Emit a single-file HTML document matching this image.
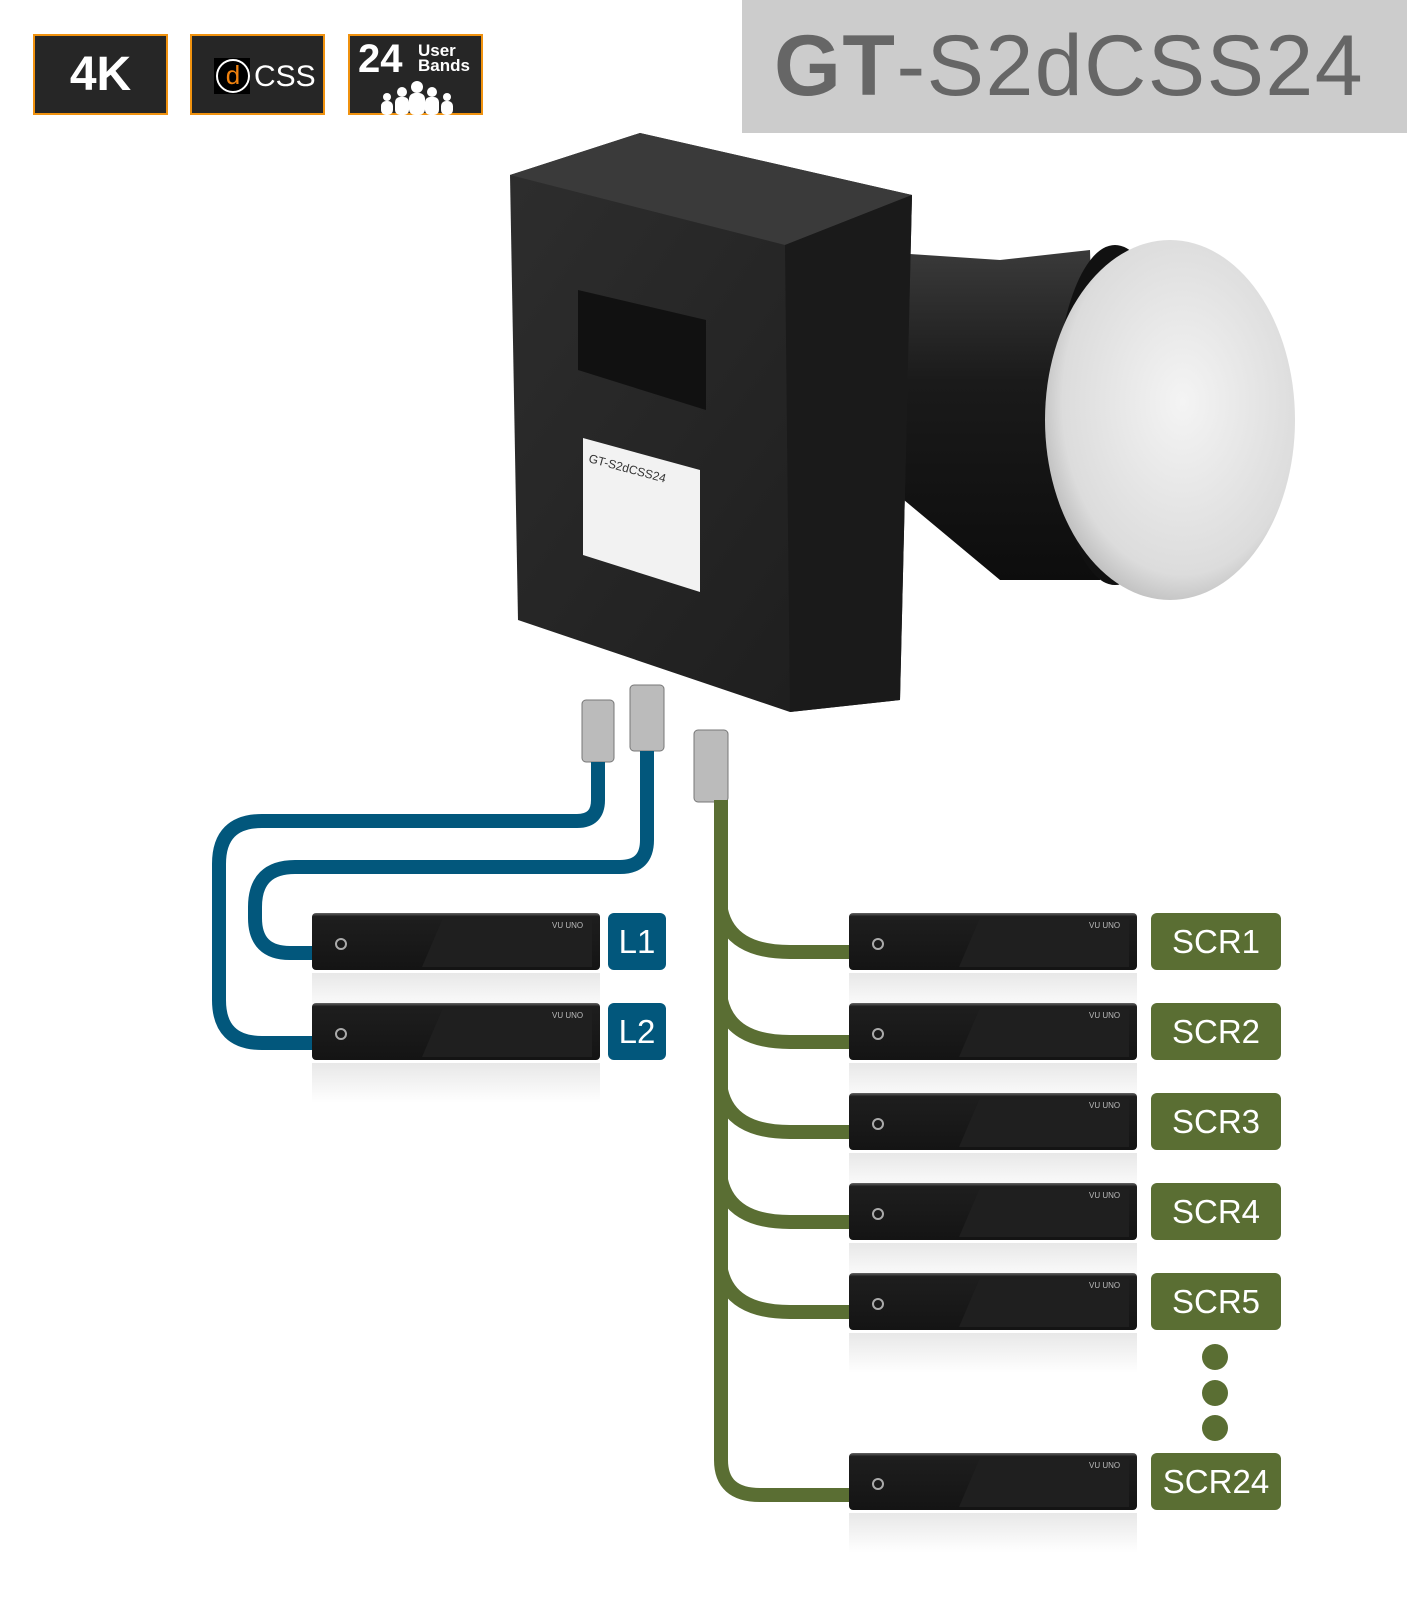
<!DOCTYPE html>
<html><head><meta charset="utf-8"><style>
html,body{margin:0;padding:0;background:#fff;}
body{width:1407px;height:1600px;position:relative;overflow:hidden;font-family:"Liberation Sans",sans-serif;}
.badge{position:absolute;top:34px;width:135px;height:81px;background:#262626;border:2px solid #f0920f;box-sizing:border-box;color:#fff;}
.lbl{position:absolute;color:#fff;font-size:33px;display:flex;align-items:center;justify-content:center;border-radius:6px;}
.blue{background:#02577c;}
.green{background:#5a6e33;}
</style></head><body>
<div class="badge" style="left:33px;font-weight:bold;font-size:48px;text-align:center;line-height:77px;">4K</div>
<div class="badge" style="left:190px;">
 <div style="position:absolute;left:22px;top:22px;width:36px;height:36px;background:#000;"></div>
 <div style="position:absolute;left:24px;top:23px;width:30px;height:30px;border:2px solid #fff;border-radius:50%;color:#f0820f;font-size:26px;line-height:28px;text-align:center;">d</div>
 <div style="position:absolute;left:62px;top:24px;font-size:30px;">CSS</div>
</div>
<div class="badge" style="left:348px;">
 <div style="position:absolute;left:8px;top:1px;font-weight:bold;font-size:40px;">24</div>
 <div style="position:absolute;left:68px;top:7px;font-size:17px;line-height:15px;font-weight:bold;">User<br>Bands</div>
 <svg style="position:absolute;left:22px;top:44px" width="90" height="35"><g fill="#fff"><circle cx="45" cy="7" r="6"/><rect x="37" y="13" width="16" height="22" rx="6"/><circle cx="30" cy="12" r="5"/><rect x="23" y="17" width="14" height="18" rx="5"/><circle cx="60" cy="12" r="5"/><rect x="53" y="17" width="14" height="18" rx="5"/><circle cx="15" cy="17" r="4"/><rect x="9" y="21" width="12" height="14" rx="5"/><circle cx="75" cy="17" r="4"/><rect x="69" y="21" width="12" height="14" rx="5"/></g></svg>
</div>
<div style="position:absolute;left:742px;top:0;width:665px;height:133px;background:#cccccc;"></div>
<div style="position:absolute;left:774px;top:21px;font-size:86px;color:#666;line-height:90px;letter-spacing:1.5px;"><b>GT</b>-S2dCSS24</div>

<svg style="position:absolute;left:0;top:0" width="1407" height="1600">
 <defs>
  <linearGradient id="cyl" x1="0" y1="0" x2="0" y2="1"><stop offset="0" stop-color="#3a3a3a"/><stop offset="0.4" stop-color="#1a1a1a"/><stop offset="1" stop-color="#0d0d0d"/></linearGradient>
  <radialGradient id="cap" cx="0.55" cy="0.45" r="0.6"><stop offset="0" stop-color="#f4f4f4"/><stop offset="0.8" stop-color="#dcdcdc"/><stop offset="1" stop-color="#b8b8b8"/></radialGradient>
  <linearGradient id="box" x1="0" y1="0" x2="1" y2="1"><stop offset="0" stop-color="#2e2e2e"/><stop offset="1" stop-color="#1c1c1c"/></linearGradient>
 </defs>
 <polygon points="850,250 1000,260 1090,250 1100,580 1000,580 880,480" fill="url(#cyl)"/>
 <ellipse cx="1115" cy="415" rx="60" ry="170" fill="#111"/>
 <ellipse cx="1170" cy="420" rx="125" ry="180" fill="url(#cap)"/>
 <polygon points="510,175 640,133 912,195 900,700 790,712 518,620" fill="url(#box)"/>
 <polygon points="510,175 640,133 912,195 785,245" fill="#3a3a3a"/>
 <polygon points="785,245 912,195 900,700 790,712" fill="#1a1a1a"/>
 <polygon points="578,290 706,320 706,410 578,370" fill="#111"/>
 <polygon points="583,438 700,470 700,592 583,555" fill="#f2f2f2" />
 <text x="588" y="462" font-size="12" fill="#333" transform="rotate(15 588 462)">GT-S2dCSS24</text>
 <g fill="#bbb" stroke="#777"><rect x="582" y="700" width="32" height="62" rx="4"/><rect x="630" y="685" width="34" height="66" rx="4"/><rect x="694" y="730" width="34" height="72" rx="4"/></g>
 <g fill="none" stroke="#02577c" stroke-width="14">
  <path d="M598,762 V800 Q598,821 577,821 H262 Q219,821 219,864 V1000 Q219,1043 262,1043 H312"/>
  <path d="M647,751 V840 Q647,867 620,867 H295 Q255,867 255,907 V918 Q255,953 290,953 H312"/>
 </g>
 <g fill="none" stroke="#5a6e33" stroke-width="14">
  <path d="M721,800 V1460 Q721,1495 760,1495 H849"/>
  <path d="M721,910 Q730,952 790,952 H849"/>
  <path d="M721,1000 Q730,1042 790,1042 H849"/>
  <path d="M721,1090 Q730,1132 790,1132 H849"/>
  <path d="M721,1180 Q730,1222 790,1222 H849"/>
  <path d="M721,1270 Q730,1312 790,1312 H849"/>
 </g>
 <g fill="#5a6e33"><circle cx="1215" cy="1357" r="13"/><circle cx="1215" cy="1393" r="13"/><circle cx="1215" cy="1428" r="13"/></g>
</svg>
<div id="boxes"></div>
<script>
var rows=[[312,913],[312,1003],[849,913],[849,1003],[849,1093],[849,1183],[849,1273],[849,1453]];
var h='';
rows.forEach(function(r){
 var x=r[0],y=r[1];
 h+='<div style="position:absolute;left:'+x+'px;top:'+y+'px;width:288px;height:57px;border-radius:4px;background:linear-gradient(#666,#1e1e1e 6%,#141414);"></div>';
 h+='<div style="position:absolute;left:'+(x+110)+'px;top:'+(y+6)+'px;width:170px;height:48px;background:#1f1f1f;clip-path:polygon(12% 0,100% 0,100% 100%,0 100%);"></div>';
 h+='<div style="position:absolute;left:'+(x+23)+'px;top:'+(y+25)+'px;width:8px;height:8px;border:2px solid #aaa;border-radius:50%;"></div>';
 h+='<div style="position:absolute;left:'+(x+240)+'px;top:'+(y+8)+'px;font-size:8px;color:#bbb;">VU UNO</div>';
 h+='<div style="position:absolute;left:'+x+'px;top:'+(y+60)+'px;width:288px;height:40px;background:linear-gradient(#d8d8d8,#fff);opacity:.6;"></div>';
});
document.getElementById('boxes').innerHTML=h;
</script>
<div class="lbl blue" style="left:608px;top:913px;width:58px;height:57px;">L1</div>
<div class="lbl blue" style="left:608px;top:1003px;width:58px;height:57px;">L2</div>
<div class="lbl green" style="left:1151px;top:913px;width:130px;height:57px;">SCR1</div>
<div class="lbl green" style="left:1151px;top:1003px;width:130px;height:57px;">SCR2</div>
<div class="lbl green" style="left:1151px;top:1093px;width:130px;height:57px;">SCR3</div>
<div class="lbl green" style="left:1151px;top:1183px;width:130px;height:57px;">SCR4</div>
<div class="lbl green" style="left:1151px;top:1273px;width:130px;height:57px;">SCR5</div>
<div class="lbl green" style="left:1151px;top:1453px;width:130px;height:57px;">SCR24</div>
</body></html>
